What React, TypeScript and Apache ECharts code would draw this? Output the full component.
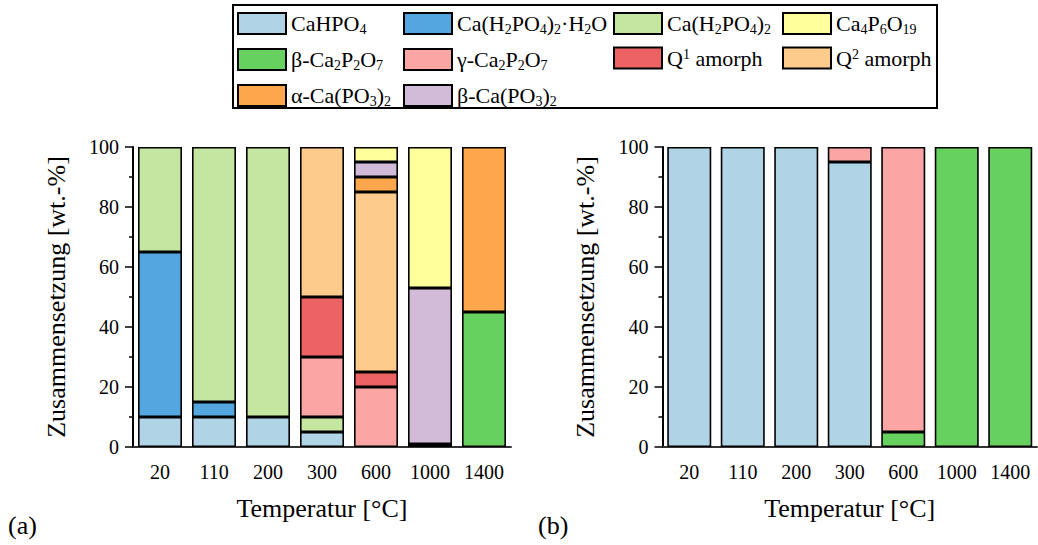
import React, { useEffect, useRef } from 'react';
import * as echarts from 'echarts';

const FONT = "'Liberation Serif', 'Times New Roman', serif";

const temperatures = ['20', '110', '200', '300', '600', '1000', '1400'];

// phase names (keys) and their formatted legend labels
const phaseNames = [
  'CaHPO4',
  'Ca(H2PO4)2·H2O',
  'Ca(H2PO4)2',
  'Ca4P6O19',
  'β-Ca2P2O7',
  'γ-Ca2P2O7',
  'Q1 amorph',
  'Q2 amorph',
  'α-Ca(PO3)2',
  'β-Ca(PO3)2',
];
const phaseLabels = [
  '{n|CaHPO}{s|4}',
  '{n|Ca(H}{s|2}{n|PO}{s|4}{n|)}{s|2}{n|·H}{s|2}{n|O}',
  '{n|Ca(H}{s|2}{n|PO}{s|4}{n|)}{s|2}',
  '{n|Ca}{s|4}{n|P}{s|6}{n|O}{s|19}',
  '{n|β-Ca}{s|2}{n|P}{s|2}{n|O}{s|7}',
  '{n|γ-Ca}{s|2}{n|P}{s|2}{n|O}{s|7}',
  '{n|Q}{p|1}{n| amorph}',
  '{n|Q}{p|2}{n| amorph}',
  '{n|α-Ca(PO}{s|3}{n|)}{s|2}',
  '{n|β-Ca(PO}{s|3}{n|)}{s|2}',
];
const phaseColors = [
  '#b0d4e6',
  '#53a7de',
  '#c4e6a0',
  '#ffff9b',
  '#66d15e',
  '#fba5a4',
  '#ed6262',
  '#fdcc8c',
  '#fda64c',
  '#d1bbd9',
];

// legend columns (4 columns, read top to bottom)
const legendCol1 = ['CaHPO4', 'β-Ca2P2O7', 'α-Ca(PO3)2'];
const legendCol2 = ['Ca(H2PO4)2·H2O', 'γ-Ca2P2O7', 'β-Ca(PO3)2'];
const legendCol3 = ['Ca(H2PO4)2', 'Q1 amorph'];
const legendCol4 = ['Ca4P6O19', 'Q2 amorph'];

// panel (a) values in wt.-% per temperature
const aCaHPO4 = [10, 10, 10, 5, 0, 0, 0];
const aBetaCa2P2O7 = [0, 0, 0, 0, 0, 1, 45];
const aMonohydrate = [55, 5, 0, 0, 0, 0, 0];
const aAnhydrous = [35, 85, 90, 5, 0, 0, 0];
const aGammaCa2P2O7 = [0, 0, 0, 20, 20, 0, 0];
const aQ1 = [0, 0, 0, 20, 5, 0, 0];
const aQ2 = [0, 0, 0, 50, 60, 0, 0];
const aAlphaCaPO3 = [0, 0, 0, 0, 5, 0, 55];
const aBetaCaPO3 = [0, 0, 0, 0, 5, 52, 0];
const aCa4P6O19 = [0, 0, 0, 0, 5, 47, 0];

// panel (b) values in wt.-% per temperature
const bCaHPO4 = [100, 100, 100, 95, 0, 0, 0];
const bBetaCa2P2O7 = [0, 0, 0, 0, 5, 100, 100];
const bGammaCa2P2O7 = [0, 0, 0, 5, 95, 0, 0];

const panelA: [string, number[]][] = [
  ['CaHPO4', aCaHPO4],
  ['β-Ca2P2O7', aBetaCa2P2O7],
  ['Ca(H2PO4)2·H2O', aMonohydrate],
  ['Ca(H2PO4)2', aAnhydrous],
  ['γ-Ca2P2O7', aGammaCa2P2O7],
  ['Q1 amorph', aQ1],
  ['Q2 amorph', aQ2],
  ['α-Ca(PO3)2', aAlphaCaPO3],
  ['β-Ca(PO3)2', aBetaCaPO3],
  ['Ca4P6O19', aCa4P6O19],
];
const panelB: [string, number[]][] = [
  ['CaHPO4', bCaHPO4],
  ['β-Ca2P2O7', bBetaCa2P2O7],
  ['γ-Ca2P2O7', bGammaCa2P2O7],
];

const colorOf = (name: string) => phaseColors[phaseNames.indexOf(name)];
const labelOf = (name: string) => phaseLabels[phaseNames.indexOf(name)];

export default function App() {
  const ref = useRef<HTMLDivElement>(null);

  useEffect(() => {
    if (!ref.current) return;
    const chart = echarts.init(ref.current, undefined, { renderer: 'svg' });

    const makeSeries = (list: [string, number[]][], idx: number) =>
      list.map(([name, values]) => ({
        type: 'bar',
        name,
        stack: 'p' + idx,
        xAxisIndex: idx,
        yAxisIndex: idx,
        barWidth: 44,
        data: values.map((v) => (v === 0 ? '-' : v)),
        itemStyle: { color: colorOf(name), borderColor: '#000', borderWidth: 1.6 },
        emphasis: { disabled: true },
      }));

    const xAxis = (gridIndex: number) => ({
      type: 'category',
      gridIndex,
      data: temperatures,
      axisLine: { lineStyle: { color: '#333', width: 2 } },
      axisTick: { alignWithLabel: true, length: 7, lineStyle: { color: '#000', width: 1.5 } },
      axisLabel: { fontSize: 20, color: '#000', fontFamily: FONT, margin: 15 },
      name: 'Temperatur [°C]',
      nameLocation: 'middle',
      nameGap: 48,
      nameTextStyle: { fontSize: 26, color: '#000', fontFamily: FONT },
    });
    const yAxis = (gridIndex: number) => ({
      type: 'value',
      gridIndex,
      min: 0,
      max: 100,
      interval: 20,
      axisLine: { show: true, lineStyle: { color: '#000', width: 2 } },
      axisTick: { show: true, length: 8, lineStyle: { color: '#000', width: 1.5 } },
      minorTick: { show: true, splitNumber: 2, length: 4, lineStyle: { color: '#000', width: 1.5 } },
      splitLine: { show: false },
      axisLabel: { fontSize: 20, color: '#000', fontFamily: FONT, margin: 14 },
      name: 'Zusammensetzung [wt.-%]',
      nameLocation: 'middle',
      nameGap: 64,
      nameTextStyle: { fontSize: 26, color: '#000', fontFamily: FONT },
    });

    const legendLefts = [237, 403, 613, 782];
    const legend = [legendCol1, legendCol2, legendCol3, legendCol4].map((data, i) => ({
      orient: 'vertical',
      left: legendLefts[i],
      top: 10.5,
      padding: 0,
      itemGap: 10,
      itemWidth: 48,
      itemHeight: 21,
      icon: 'rect',
      selectedMode: false,
      data,
      formatter: (name: string) => labelOf(name),
      itemStyle: { borderColor: '#000', borderWidth: 2 },
      textStyle: {
        color: '#000',
        fontFamily: FONT,
        fontSize: 22,
        rich: {
          n: { fontSize: 22, fontFamily: FONT, color: '#000', lineHeight: 24 },
          s: { fontSize: 14, fontFamily: FONT, color: '#000', lineHeight: 24, padding: [12, 0, 0, 0] },
          p: { fontSize: 14, fontFamily: FONT, color: '#000', lineHeight: 24, padding: [0, 0, 8, 0] },
        },
      },
    }));

    chart.setOption({
      animation: false,
      backgroundColor: '#fff',
      grid: [
        { left: 133, top: 147, width: 378, height: 300 },
        { left: 662.5, top: 147, width: 374.5, height: 300 },
      ],
      xAxis: [xAxis(0), xAxis(1)],
      yAxis: [yAxis(0), yAxis(1)],
      legend,
      series: [...makeSeries(panelA, 0), ...makeSeries(panelB, 1)],
      graphic: [
        {
          type: 'rect',
          shape: { x: 233, y: 5, width: 704, height: 103 },
          style: { fill: 'none', stroke: '#000', lineWidth: 2 },
          silent: true,
        },
        {
          type: 'text',
          x: 8,
          y: 525,
          style: { text: '(a)', fontSize: 26, fontFamily: FONT, fill: '#000', textVerticalAlign: 'middle' },
        },
        {
          type: 'text',
          x: 538,
          y: 525,
          style: { text: '(b)', fontSize: 26, fontFamily: FONT, fill: '#000', textVerticalAlign: 'middle' },
        },
      ],
    });

    return () => chart.dispose();
  }, []);

  return (
    <div
      ref={ref}
      style={{ position: 'fixed', left: 0, top: 0, width: 1038, height: 545, background: '#fff' }}
    />
  );
}
